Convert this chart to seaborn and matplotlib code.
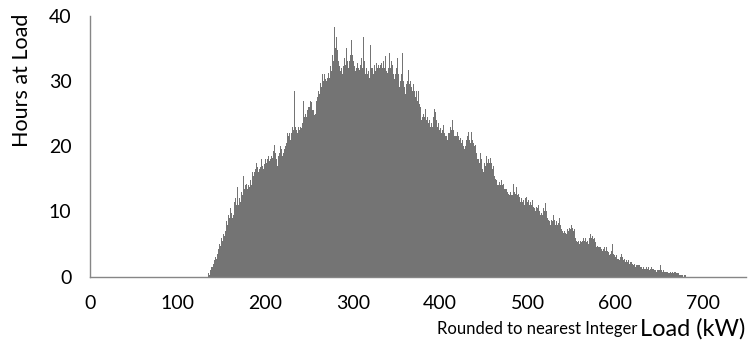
import numpy as np
import pandas as pd
import matplotlib
matplotlib.use("Agg")
import matplotlib.pyplot as plt
import seaborn as sns

# ---- data: hours at each integer load (kW), starting at 130 kW ----
load_start = 130
hours_130_199 = [
    0, 0, 0, 0, 0, 0.5, 0.25, 1, 0.75, 1.5,
    1.5, 2, 2.5, 3, 2.75, 3.5, 4, 4.25, 5, 4.75,
    6, 5.5, 6.5, 6.25, 7.5, 7, 8.5, 8, 9.5, 9,
    10.5, 9.75, 10, 9, 9.5, 11.5, 12, 11, 13.75, 11,
    11.5, 12, 11.5, 13, 12.5, 15.5, 13.5, 14, 13.25, 14.25,
    13.5, 14, 13.75, 14.75, 14, 16, 17, 15.5, 16, 16.5,
    17.5, 16.75, 16, 16.5, 17, 16.75, 18, 17, 16.5, 17.25,
]
hours_200s = [
    18, 17.5, 19.75, 18, 18.5, 17.75, 18, 18.5, 18.25, 19.25,
    18.5, 20.25, 19, 18, 17, 18.5, 19, 20, 19, 19.5,
    18.5, 19, 19.5, 20, 20.5, 22, 24.25, 21.5, 22, 21,
    22, 23, 22.5, 28.5, 25, 23, 22.5, 22, 23, 22.5,
    23, 22.75, 24, 23.5, 27, 24.5, 25, 24.5, 25.5, 26,
    28, 26, 27, 26.75, 25.5, 25.5, 24.75, 25, 26, 27,
    27.5, 28.5, 28, 29.75, 29, 31, 33.25, 30, 31, 30.25,
    30, 30.5, 31.25, 30.5, 31.5, 32.25, 31.5, 34, 33, 38.25,
    35, 36.75, 34, 34.75, 33, 32.25, 31.5, 32, 31, 32.25,
    32, 33.5, 32.5, 35, 33, 32, 33, 34, 33.5, 36.25,
]
hours_300s = [
    34, 33, 32.25, 31.5, 32, 32.75, 31.5, 32, 31.75, 32.5,
    33.5, 32, 36.75, 33, 32.75, 31, 32, 31, 31.5, 30.5,
    35.5, 32, 33, 32, 31, 32.5, 31.5, 32.75, 32, 32.5,
    33, 32, 32.5, 32.75, 32, 33, 32, 33.75, 32.5, 31.5,
    31.25, 32, 34.25, 32, 33, 32.5, 34.25, 31, 30.25, 31,
    32, 33.5, 31, 29, 27.5, 30, 31, 34.25, 30, 29,
    28, 29.5, 30.5, 30, 31.75, 29.5, 30, 29, 28.5, 29.5,
    28, 28.5, 27.5, 28.5, 27, 28.5, 26.5, 26, 25, 24,
    24.5, 25, 24.5, 25.75, 24, 24.5, 24.5, 23.5, 24, 23,
    23.5, 23, 24.5, 25.75, 24.5, 25.25, 24, 23, 23.5, 22.5,
]
hours_400s = [
    22.75, 22, 23, 22.5, 23.25, 22, 21.5, 21.5, 21, 22,
    22.75, 22, 23, 22.5, 24, 22.5, 21.5, 21.5, 21, 21.5,
    22.25, 21.5, 21, 21.25, 20.5, 21, 21.25, 20, 19.5, 20,
    21, 21.5, 22.25, 21, 21.5, 20.5, 22.25, 21, 20.5, 20,
    20.25, 19, 18.5, 18, 18, 17.5, 19, 18, 16.5, 16,
    16.5, 17.5, 17, 18.5, 17.5, 18, 17.5, 18.25, 17, 17.5,
    16.5, 17, 15.5, 15, 14.75, 14, 13.5, 14, 14.5, 14,
    14.75, 14, 14.25, 13.5, 14, 13.5, 13.5, 13, 12.75, 12.5,
    13, 12.5, 13, 12.5, 14.25, 13, 12.75, 13.75, 12.5, 12.75,
    12.5, 12.25, 11.5, 12, 11.5, 11.75, 11, 12, 11.5, 12.25,
]
hours_500s = [
    11.5, 11.75, 11, 11.5, 11, 11.75, 10.5, 10.75, 10.5, 10,
    10.75, 10.5, 11, 10, 10.25, 9.5, 9.75, 9.5, 10.5, 10,
    11.25, 10, 9.5, 9, 8.75, 8.5, 8, 8.75, 8.5, 9.5,
    8.5, 8.75, 8, 8.5, 8, 8.25, 9, 8, 7.75, 7.25,
    7, 6.75, 7, 6.75, 6.5, 7.25, 7.5, 7, 7.5, 7.25,
    8, 7.5, 7, 7.25, 6.5, 6, 5.5, 5.25, 5.5, 5,
    5.5, 5.25, 6, 5.5, 6, 5.5, 6, 5.25, 5.5, 5,
    5.5, 6, 6.5, 6, 6.25, 5.75, 6, 5.25, 4.75, 4.5,
    4.75, 4.5, 4.5, 4.5, 4.25, 4, 4.5, 4.25, 4.5, 4,
    4.5, 4, 3.75, 3.25, 3, 3.5, 4, 5, 3.5, 3.25,
]
hours_600s = [
    3, 3.25, 3, 2.75, 2.75, 2.5, 3, 3.5, 3, 2.5,
    2.5, 2.75, 2.25, 2.5, 2.25, 2.5, 2, 2.25, 2, 2.25,
    2, 1.75, 2, 1.5, 1.75, 1.75, 1.5, 1.75, 1.75, 1.5,
    1.5, 1.25, 1.5, 1.25, 1.5, 1.25, 1.5, 1.25, 1.5, 1,
    1.25, 1.5, 1, 1.25, 1.25, 1, 1, 0.75, 1, 1,
    1.25, 1, 1.75, 1, 0.75, 1, 0.75, 0.75, 1, 0.75,
    0.75, 0.5, 0.5, 0.75, 0.5, 0.75, 0.75, 0.5, 0.75, 0.75,
    0.5, 0.5, 0.5, 0.25, 0.5, 0.25, 0.25, 0.25, 0, 0.25,
    0.25, 0, 0.25, 0, 0, 0, 0, 0, 0, 0,
]

hours = hours_130_199 + hours_200s + hours_300s + hours_400s + hours_500s + hours_600s
load_kw = np.arange(load_start, load_start + len(hours))

x_tick_labels = ["0", "100", "200", "300", "400", "500", "600", "700"]
y_tick_labels = ["0", "10", "20", "30", "40"]

df = pd.DataFrame({"Load": load_kw, "Hours": hours})

# ---- styling ----
sns.set_style("white")
plt.rcParams["font.family"] = ["Lato", "DejaVu Sans"]

W, H = 755, 349
fig = plt.figure(figsize=(W / 100, H / 100), dpi=100)
x0, x1 = 90.2, 746.5
y_top, y_bot = 15.7, 276.7
ax = fig.add_axes([x0 / W, 1 - y_bot / H, (x1 - x0) / W, (y_bot - y_top) / H])

sns.barplot(data=df, x="Load", y="Hours", native_scale=True, width=1.0,
            errorbar=None, color="#747474", linewidth=0, saturation=1, ax=ax)

ax.set_xlim(0, 750)
ax.set_ylim(0, 40)
ax.set_xticks(np.arange(0, 701, 100))
ax.set_xticklabels(x_tick_labels)
ax.set_xticks(np.arange(50, 651, 100), minor=True)
ax.set_yticks(np.arange(0, 41, 10))
ax.set_yticklabels(y_tick_labels)

axis_col = "#868686"
for s in ["top", "right"]:
    ax.spines[s].set_visible(False)
for s in ["left", "bottom"]:
    ax.spines[s].set_color(axis_col)
    ax.spines[s].set_linewidth(1.0)

ax.tick_params(axis="both", which="both", direction="out", color=axis_col,
               length=4.5, width=1.0, labelsize=14, labelcolor="#000000")
ax.tick_params(axis="x", which="both", pad=9)
ax.tick_params(axis="y", pad=9)
ax.set_xlabel("")
ax.set_ylabel("")
ax.grid(False)

fig.text(22 / W, 1 - 80 / H, "Hours at Load", rotation=90, ha="center", va="center",
         fontsize=15.5, color="#000000")
fig.text(437 / W, 1 - 334 / H, "Rounded to nearest Integer", ha="left", va="baseline",
         fontsize=12, color="#000000")
fig.text(640 / W, 1 - 336 / H, "Load (kW)", ha="left", va="baseline",
         fontsize=17, color="#000000")

fig.savefig("out.png", dpi=100)
